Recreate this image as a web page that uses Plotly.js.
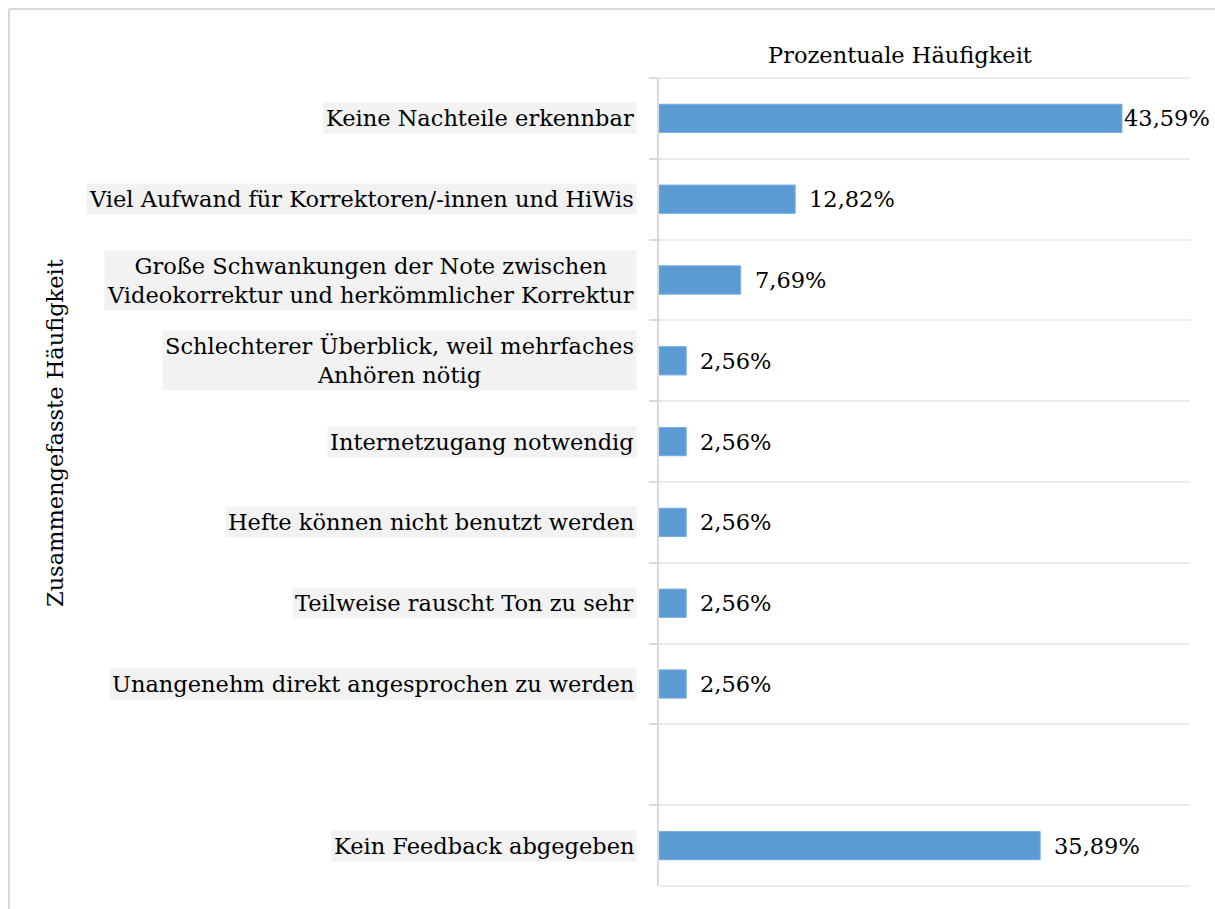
<!DOCTYPE html>
<html>
<head>
<meta charset="utf-8">
<script src="https://cdn.plot.ly/plotly-3.0.1.min.js"></script>
<style>
  html, body { margin: 0; padding: 0; background: #ffffff; }
  #chart { width: 1215px; height: 909px; }
</style>
</head>
<body>
<div id="chart"></div>
<script>
// ---- data ----
const categories = [
  "Keine Nachteile erkennbar",
  "Viel Aufwand für Korrektoren/-innen und HiWis",
  "Große Schwankungen der Note zwischen<br>Videokorrektur und herkömmlicher Korrektur",
  "Schlechterer Überblick, weil mehrfaches<br>Anhören nötig",
  "Internetzugang notwendig",
  "Hefte können nicht benutzt werden",
  "Teilweise rauscht Ton zu sehr",
  "Unangenehm direkt angesprochen zu werden",
  " ",
  "Kein Feedback abgegeben"
];
const values = [43.59, 12.82, 7.69, 2.56, 2.56, 2.56, 2.56, 2.56, null, 35.89];
const valueLabels = ["43,59%", "12,82%", "7,69%", "2,56%", "2,56%", "2,56%", "2,56%", "2,56%", "", "35,89%"];
const chartTitle = "Prozentuale Häufigkeit";
const yTitle = "Zusammengefasste Häufigkeit";

// ---- styling ----
const FONT = "DejaVu Serif";
const FS = 22.5;
const XMAX = 50;
const GRID = "#ececec";

const trace = {
  type: "bar",
  orientation: "h",
  y: categories,
  x: values,
  marker: { color: "#5b9bd5", line: { color: "#78acdc", width: 1 } },
  hoverinfo: "skip",
  showlegend: false
};

const annotations = [];
categories.forEach((c, i) => {
  if (c.trim() === "") return;
  annotations.push({
    xref: "paper", yref: "y", x: 0, y: c,
    xanchor: "right", yanchor: "middle", xshift: -22,
    text: c, showarrow: false, align: "center",
    bgcolor: "#f2f2f2", borderpad: 2,
    font: { family: FONT, size: FS, color: "#000000" }
  });
  if (values[i] !== null) {
    annotations.push({
      xref: "x", yref: "y", x: values[i], y: c,
      xanchor: "left", yanchor: "middle",
      xshift: values[i] / XMAX > 0.8 ? 0 : 12,
      text: valueLabels[i], showarrow: false,
      font: { family: FONT, size: FS, color: "#000000" }
    });
  }
});
annotations.push({
  xref: "paper", yref: "paper", x: (55 - 659) / 531, y: (886 - 433) / 808,
  xanchor: "center", yanchor: "middle", textangle: -90,
  text: yTitle, showarrow: false,
  font: { family: FONT, size: FS, color: "#000000" }
});

const layout = {
  width: 1215, height: 909,
  margin: { l: 659, r: 25, t: 78, b: 23, pad: 0 },
  paper_bgcolor: "#ffffff", plot_bgcolor: "#ffffff",
  font: { family: FONT, size: FS, color: "#000000" },
  title: {
    text: chartTitle,
    xref: "container", yref: "container",
    x: 900 / 1215, y: 1 - 55 / 909,
    xanchor: "center", yanchor: "middle",
    font: { family: FONT, size: FS, color: "#000000" }
  },
  bargap: 0.65,
  xaxis: {
    range: [0, XMAX], showgrid: false, zeroline: false,
    showticklabels: false, ticks: "", showline: false, fixedrange: true
  },
  yaxis: {
    type: "category", categoryorder: "array", categoryarray: categories,
    range: [categories.length - 0.5, -0.5], autorange: false,
    tickson: "boundaries",
    showgrid: true, gridcolor: GRID, gridwidth: 2,
    ticks: "outside", ticklen: 8, tickcolor: "#d9d9d9", tickwidth: 2,
    showline: true, linecolor: "#d9d9d9", linewidth: 2,
    showticklabels: false, zeroline: false, fixedrange: true
  },
  annotations: annotations,
  shapes: [
    // plot-area top and bottom boundary lines
    { type: "line", xref: "paper", yref: "paper", layer: "below",
      x0: 0, x1: 1, y0: 1, y1: 1, line: { color: GRID, width: 2 } },
    { type: "line", xref: "paper", yref: "paper", layer: "below",
      x0: 0, x1: 1, y0: 0, y1: 0, line: { color: GRID, width: 2 } },
    // outer chart frame (left and top edges visible)
    { type: "line", xref: "paper", yref: "paper",
      x0: (9 - 659) / 531, x1: (9 - 659) / 531, y0: -0.2, y1: (886 - 9) / 808,
      line: { color: "#d9d9d9", width: 2 } },
    { type: "line", xref: "paper", yref: "paper",
      x0: (9 - 659) / 531, x1: 1.2, y0: (886 - 9) / 808, y1: (886 - 9) / 808,
      line: { color: "#d9d9d9", width: 2 } }
  ]
};

Plotly.newPlot("chart", [trace], layout, { displayModeBar: false, staticPlot: true });
</script>
</body>
</html>
